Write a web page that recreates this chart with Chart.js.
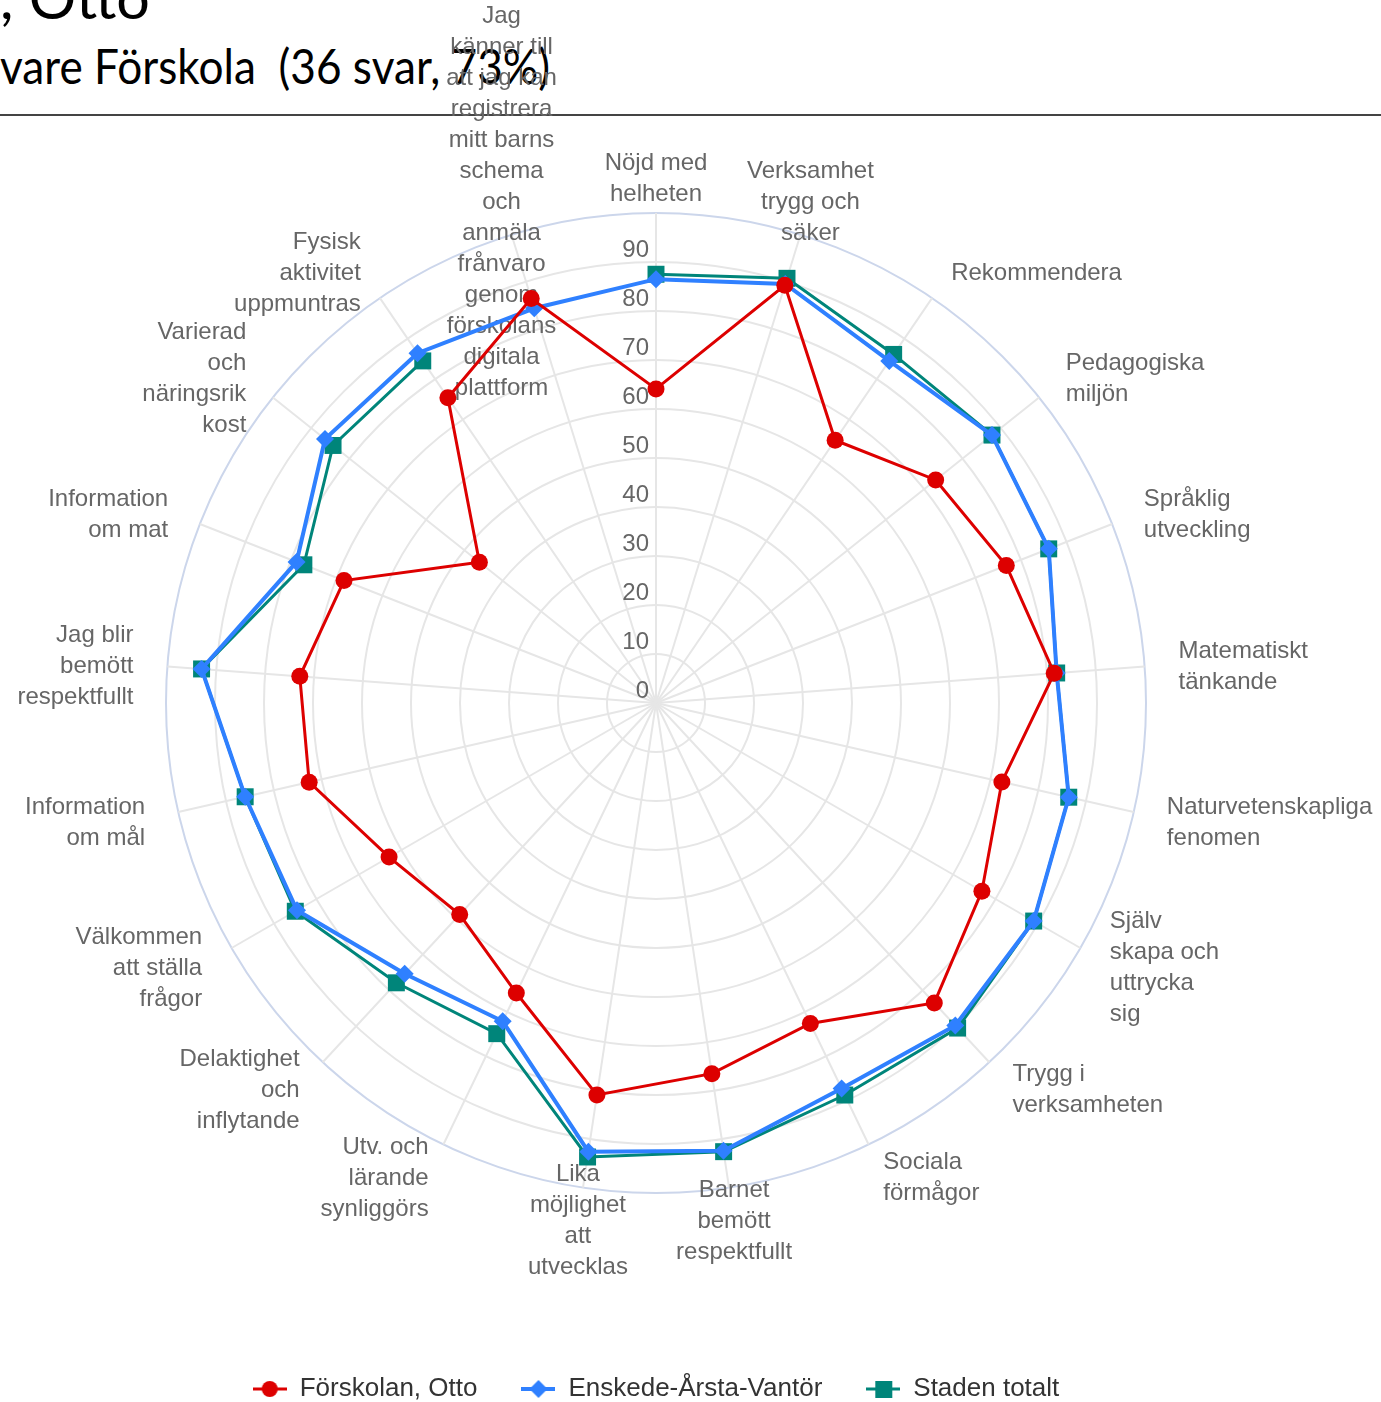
<!DOCTYPE html>
<html lang="sv">
<head>
<meta charset="utf-8">
<title>Förskolan, Otto</title>
<script src="https://cdn.jsdelivr.net/npm/chart.js@4.4.1/dist/chart.umd.min.js"></script>
<style>
    html, body { margin: 0; padding: 0; background: #fff; overflow: hidden; }
    #ram { position: relative; width: 1381px; height: 1402px; overflow: hidden; }
    .rubrik { position: absolute; left: 0; white-space: nowrap; font-family: Lato, "Open Sans", sans-serif; color: #000; line-height: 1; transform-origin: 0 0; }
    #rubrik1 { top: -32px; font-size: 58px; }
    #rubrik2 { top: 42px; font-size: 48px; }
    #linje { position: absolute; left: 0; top: 114px; width: 1381px; height: 2px; background: #444; }
    #diagram-ram { position: absolute; left: 0; top: 0; width: 1381px; height: 1412px; }
</style>
</head>
<body>
<div id="ram">
    <div class="rubrik" id="rubrik1">, Otto</div>
    <div class="rubrik" id="rubrik2">vare Förskola&nbsp; (36 svar, 73%)</div>
    <div id="linje"></div>
    <div id="diagram-ram"><canvas id="radar" width="1381" height="1412"></canvas></div>
</div>
<script>
// kategorier (radbrutna som i originalet)
const kategorier = [
    ['Nöjd med', 'helheten'],
    ['Verksamhet', 'trygg och', 'säker'],
    ['Rekommendera'],
    ['Pedagogiska', 'miljön'],
    ['Språklig', 'utveckling'],
    ['Matematiskt', 'tänkande'],
    ['Naturvetenskapliga', 'fenomen'],
    ['Själv', 'skapa och', 'uttrycka', 'sig'],
    ['Trygg i', 'verksamheten'],
    ['Sociala', 'förmågor'],
    ['Barnet', 'bemött', 'respektfullt'],
    ['Lika', 'möjlighet', 'att', 'utvecklas'],
    ['Utv. och', 'lärande', 'synliggörs'],
    ['Delaktighet', 'och', 'inflytande'],
    ['Välkommen', 'att ställa', 'frågor'],
    ['Information', 'om mål'],
    ['Jag blir', 'bemött', 'respektfullt'],
    ['Information', 'om mat'],
    ['Varierad', 'och', 'näringsrik', 'kost'],
    ['Fysisk', 'aktivitet', 'uppmuntras'],
    ['Jag', 'känner till', 'att jag kan', 'registrera', 'mitt barns', 'schema', 'och', 'anmäla', 'frånvaro', 'genom', 'förskolans', 'digitala', 'plattform']
];

const forskolan = [64.1, 89.2, 64.9, 73.0, 76.8, 81.5, 72.4, 76.8, 83.5, 72.6, 76.5, 80.9, 65.7, 58.9, 62.9, 72.6, 72.9, 68.4, 46.1, 75.4, 86.4];
const stadsdel = [86.5, 89.5, 84.5, 87.7, 86.1, 82.0, 86.4, 89.0, 89.8, 87.3, 92.4, 92.6, 72.1, 75.4, 84.6, 86.0, 93.0, 78.8, 86.4, 86.4, 84.3];
const staden = [87.5, 90.7, 86.1, 87.7, 86.1, 82.0, 86.4, 89.0, 90.5, 88.8, 92.6, 93.7, 74.9, 77.9, 85.0, 86.0, 93.0, 77.2, 84.3, 84.5, null];

const skalSteg = [0, 10, 20, 30, 40, 50, 60, 70, 80, 90];
const serieNamn = ['Förskolan, Otto', 'Enskede-Årsta-Vantör', 'Staden totalt'];

const rod = '#dd0000';
const bla = '#2f80ff';
const gron = '#00857a';

// rubriker: anpassa bredden som i bilden
function anpassa(id, bredd) {
    const el = document.getElementById(id);
    const b = el.getBoundingClientRect().width;
    el.style.transform = 'scaleX(' + (bredd / b) + ')';
}
anpassa('rubrik1', 150);
anpassa('rubrik2', 550);

// legendsymbol: linje med markör
function legendIkon(farg, stil, linjebredd) {
    const c = document.createElement('canvas');
    c.width = 34;
    c.height = 22;
    const g = c.getContext('2d');
    g.strokeStyle = farg;
    g.fillStyle = farg;
    g.lineWidth = linjebredd;
    g.beginPath();
    g.moveTo(0, 11);
    g.lineTo(34, 11);
    g.stroke();
    g.beginPath();
    if (stil === 'circle') {
        g.arc(17, 11, 8, 0, Math.PI * 2);
    } else if (stil === 'rectRot') {
        g.moveTo(8, 11); g.lineTo(17, 2); g.lineTo(26, 11); g.lineTo(17, 20); g.closePath();
    } else {
        g.rect(9, 3, 17, 17);
    }
    g.fill();
    return c;
}
const ikoner = [legendIkon(rod, 'circle', 3), legendIkon(bla, 'rectRot', 4), legendIkon(gron, 'rect', 3)];

// egna etiketter för skalan och kategorierna
const etiketter = {
    id: 'etiketter',
    beforeDatasetsDraw(chart) {
        const skala = chart.scales.r;
        const ctx = chart.ctx;
        ctx.save();
        ctx.font = '24px "Liberation Sans", Arial, sans-serif';
        ctx.fillStyle = '#666666';
        ctx.textAlign = 'right';
        ctx.textBaseline = 'alphabetic';
        skalSteg.forEach(v => {
            const y = skala.yCenter - skala.getDistanceFromCenterForValue(v);
            ctx.fillText(String(v), skala.xCenter - 7, y - 5);
        });

        const radhojd = 31;
        ctx.textBaseline = 'middle';
        kategorier.forEach((rader, i) => {
            const p = skala.getPointPosition(i, skala.drawingArea + 34);
            const vinkel = i * 360 / kategorier.length;
            let align = 'right';
            if (vinkel < 20 || vinkel > 340 || (vinkel > 160 && vinkel < 200)) {
                align = 'center';
            } else if (vinkel < 180) {
                align = 'left';
            }
            ctx.textAlign = align;
            const dy = align === 'center' ? 0 : 3;
            const hojd = (rader.length - 1) * radhojd;
            rader.forEach((rad, j) => {
                ctx.fillText(rad, p.x, p.y - hojd / 2 + j * radhojd + dy);
            });
        });
        ctx.restore();
    }
};

Chart.defaults.font.family = '"Liberation Sans", Arial, sans-serif';

new Chart(document.getElementById('radar'), {
    type: 'radar',
    data: {
        labels: kategorier.map(k => k.join(' ')),
        datasets: [
            {
                label: serieNamn[0],
                data: forskolan,
                borderColor: rod,
                backgroundColor: rod,
                borderWidth: 3,
                fill: false,
                pointStyle: 'circle',
                pointRadius: 8.5,
                pointHoverRadius: 8.5,
                pointBorderWidth: 0,
                pointBackgroundColor: rod
            },
            {
                label: serieNamn[1],
                data: stadsdel,
                borderColor: bla,
                backgroundColor: bla,
                borderWidth: 4,
                fill: false,
                pointStyle: 'rectRot',
                pointRadius: 9,
                pointHoverRadius: 9,
                pointBorderWidth: 0,
                pointBackgroundColor: bla
            },
            {
                label: serieNamn[2],
                data: staden,
                borderColor: gron,
                backgroundColor: gron,
                borderWidth: 3,
                fill: false,
                pointStyle: 'rect',
                pointRadius: 12,
                pointHoverRadius: 12,
                pointBorderWidth: 0,
                pointBackgroundColor: gron
            }
        ]
    },
    options: {
        responsive: false,
        animation: false,
        layout: {
            padding: { left: 166, right: 235, top: 74, bottom: 0 }
        },
        elements: {
            line: { tension: 0 }
        },
        scales: {
            r: {
                min: 0,
                max: 100,
                ticks: { stepSize: 10, display: false },
                pointLabels: { display: false },
                grid: {
                    circular: true,
                    lineWidth: 2,
                    color: c => (c.tick && c.tick.value === 100) ? '#ccd6eb' : '#e6e6e6'
                },
                angleLines: { color: '#e6e6e6', lineWidth: 2 }
            }
        },
        plugins: {
            tooltip: { enabled: false },
            legend: {
                position: 'bottom',
                labels: {
                    usePointStyle: true,
                    pointStyleWidth: 34,
                    padding: 44,
                    color: '#333333',
                    font: { size: 26 },
                    generateLabels: chart => chart.data.datasets.map((ds, i) => ({
                        text: ds.label,
                        pointStyle: ikoner[i],
                        fillStyle: ds.borderColor,
                        strokeStyle: ds.borderColor,
                        lineWidth: 0,
                        fontColor: '#333333',
                        hidden: !chart.isDatasetVisible(i),
                        datasetIndex: i
                    }))
                }
            }
        }
    },
    plugins: [etiketter]
});
</script>
</body>
</html>
